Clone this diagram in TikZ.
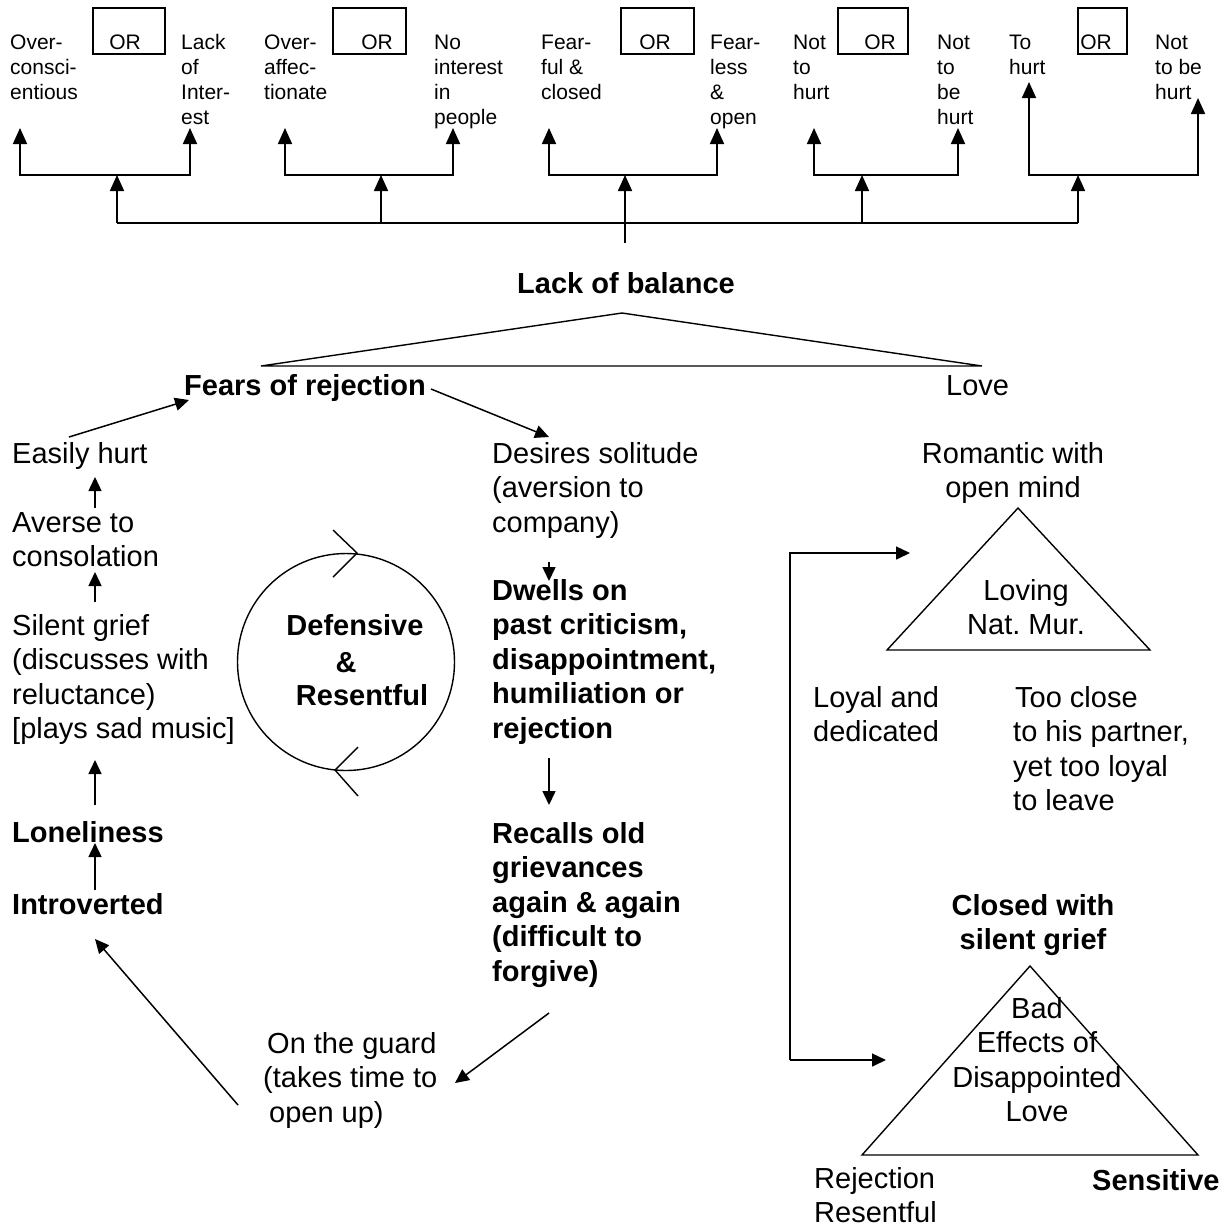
\documentclass[tikz,border=0pt]{standalone}
\usepackage{fontspec}
\setmainfont{Liberation Sans}
\usetikzlibrary{arrows.meta}
\newcommand\ml[2][l]{\begin{tabular}[t]{@{}#1@{}}#2\end{tabular}}
\begin{document}
\begin{tikzpicture}[x=1pt,y=-1pt,
  toptxt/.style={font=\fontsize{21}{25}\selectfont, inner sep=0, anchor=base west},
  txt/.style={font=\fontsize{29}{34.6}\selectfont, inner sep=0, anchor=base west},
  btxt/.style={font=\fontsize{29}{34.6}\selectfont\bfseries, inner sep=0, anchor=base west},
  orbox/.style={draw, line width=1.5pt, minimum height=46pt, inner sep=0},
  conn/.style={line width=1.7pt},
  arr/.style={line width=1.7pt, -{Triangle[length=16pt,width=14pt]}},
  sarr/.style={line width=1.5pt, -{Triangle[length=14pt,width=13pt]}},
  outl/.style={line width=1.4pt, line join=miter}]
\fill[white] (0,0) rectangle (1230,1227);
\useasboundingbox (0,0) rectangle (1230,1227);

% ---------- top row ----------
\node[orbox, minimum width=72pt] (b1) at (129,31) {};
\node[orbox, minimum width=73pt] (b2) at (369.5,31) {};
\node[orbox, minimum width=73pt] (b3) at (657.5,31) {};
\node[orbox, minimum width=70pt] (b4) at (873,31) {};
\node[orbox, minimum width=49pt] (b5) at (1102.5,31) {};
\node[toptxt, anchor=base] (o1) at (125,49.5) {OR};
\node[toptxt, anchor=base] (o2) at (377,49.5) {OR};
\node[toptxt, anchor=base] (o3) at (655,49.5) {OR};
\node[toptxt, anchor=base] (o4) at (880,49.5) {OR};
\node[toptxt, anchor=base] (o5) at (1096,49.5) {OR};

\node[toptxt] (t1) at (10,49.5) {\ml{Over-\\consci-\\entious}};
\node[toptxt] (t2) at (181,49.5) {\ml{Lack\\of\\Inter-\\est}};
\node[toptxt] (t3) at (264,49.5) {\ml{Over-\\affec-\\tionate}};
\node[toptxt] (t4) at (434,49.5) {\ml{No\\interest\\in\\people}};
\node[toptxt] (t5) at (541,49.5) {\ml{Fear-\\ful \&\\closed}};
\node[toptxt] (t6) at (710,49.5) {\ml{Fear-\\less\\\&\\open}};
\node[toptxt] (t7) at (793,49.5) {\ml{Not\\to\\hurt}};
\node[toptxt] (t8) at (937,49.5) {\ml{Not\\to\\be\\hurt}};
\node[toptxt] (t9) at (1009,49.5) {\ml{To\\hurt}};
\node[toptxt] (t10) at (1155,49.5) {\ml{Not\\to be\\hurt}};

% arrow tips of the top row
\coordinate (a1) at (20,128);   \coordinate (a2) at (190,128);
\coordinate (a3) at (285,128);  \coordinate (a4) at (453,128);
\coordinate (a5) at (549,128);  \coordinate (a6) at (717,128);
\coordinate (a7) at (814,128);  \coordinate (a8) at (958,128);
\coordinate (a9) at (1029,82);  \coordinate (a10) at (1198,98);
% junctions
\coordinate (m1) at (117,175); \coordinate (m2) at (381,175);
\coordinate (m3) at (625,175); \coordinate (m4) at (862,175);
\coordinate (m5) at (1078,175);
\coordinate (n1) at (117,223); \coordinate (n2) at (381,223);
\coordinate (n3) at (625,223); \coordinate (n4) at (862,223);
\coordinate (n5) at (1078,223);
\coordinate (lbtop) at (625,243);

\draw[arr] (m1) -| (a1); \draw[arr] (m1) -| (a2);
\draw[arr] (m2) -| (a3); \draw[arr] (m2) -| (a4);
\draw[arr] (m3) -| (a5); \draw[arr] (m3) -| (a6);
\draw[arr] (m4) -| (a7); \draw[arr] (m4) -| (a8);
\draw[arr] (m5) -| (a9); \draw[arr] (m5) -| (a10);
\draw[arr] (n1) -- (m1); \draw[arr] (n2) -- (m2);
\draw[arr] (n4) -- (m4); \draw[arr] (n5) -- (m5);
\draw[conn] (n1) -- (n5);
\draw[arr] (lbtop) -- (m3);

% ---------- lack of balance ----------
\node[btxt, anchor=base] (lob) at (626,293) {Lack of balance};
\coordinate (tl) at (261,366); \coordinate (ta) at (622,313); \coordinate (tr) at (982,366);
\draw[outl] (tl) -- (ta) -- (tr) -- cycle;
\node[btxt] (fear) at (184,395) {Fears of rejection};
\node[txt] (love) at (946,395) {Love};

% ---------- left column ----------
\node[txt] (easy) at (12,463) {Easily hurt};
\node[txt] (averse) at (12,532) {\ml{Averse to\\consolation}};
\node[txt] (silent) at (12,635) {\ml{Silent grief\\(discusses with\\reluctance)\\\relax[plays sad music]}};
\node[btxt] (lonely) at (12,842) {Loneliness};
\node[btxt] (intro) at (12,914) {Introverted};

% ---------- middle column ----------
\node[txt] (desire) at (492,463) {\ml{Desires solitude\\(aversion to\\company)}};
\node[btxt] (dwells) at (492,600) {\ml{Dwells on\\past criticism,\\disappointment,\\humiliation or\\rejection}};
\node[btxt] (recalls) at (492,843) {\ml{Recalls old\\grievances\\again \& again\\\relax(difficult to\\forgive)}};
\node[txt] (guard) at (263,1053) {\ml{\hspace{4pt}On the guard\\\relax(takes time to\\\hspace{6pt}open up)}};

% ---------- circle ----------
\node[draw, circle, line width=1.4pt, minimum size=217pt, inner sep=0] (circ) at (346,662) {};
\node[btxt, anchor=base] (def) at (355,635) {Defensive};
\node[btxt, anchor=base] (amp) at (346,672) {\&};
\node[btxt, anchor=base] (res) at (362,705) {Resentful};
\coordinate (ch1a) at (333,530); \coordinate (ch1b) at (357,553); \coordinate (ch1c) at (333,577);
\coordinate (ch2a) at (358,747); \coordinate (ch2b) at (335,770); \coordinate (ch2c) at (358,796);
\draw[outl] (ch1a) -- (ch1b) -- (ch1c);
\draw[outl] (ch2a) -- (ch2b) -- (ch2c);

% ---------- flow arrows ----------
\coordinate (e1) at (69,437);   \coordinate (e2) at (189,400);
\coordinate (f1) at (431,389);  \coordinate (f2) at (549,437);
\coordinate (g1) at (549,562);  \coordinate (g2) at (549,581);
\coordinate (h1) at (549,758);  \coordinate (h2) at (549,805);
\coordinate (i1) at (549,1013); \coordinate (i2) at (455,1083);
\coordinate (j1) at (238,1105); \coordinate (j2) at (95,939);
\coordinate (k1) at (95,890);   \coordinate (k2) at (95,843);
\coordinate (l1) at (95,805);   \coordinate (l2) at (95,760);
\coordinate (p1) at (95,602);   \coordinate (p2) at (95,572);
\coordinate (q1) at (95,508);   \coordinate (q2) at (95,477);
\draw[sarr] (e1) -- (e2);
\draw[sarr] (f1) -- (f2);
\draw[sarr] (g1) -- (g2);
\draw[sarr] (h1) -- (h2);
\draw[sarr] (i1) -- (i2);
\draw[sarr] (j1) -- (j2);
\draw[sarr] (k1) -- (k2);
\draw[sarr] (l1) -- (l2);
\draw[sarr] (p1) -- (p2);
\draw[sarr] (q1) -- (q2);

% ---------- right side ----------
\node[txt, anchor=base] (rom) at (1013,463) {\ml[c]{Romantic with\\open mind}};
\coordinate (u1) at (887,650); \coordinate (u2) at (1018,508); \coordinate (u3) at (1150,650);
\draw[outl] (u1) -- (u2) -- (u3) -- cycle;
\node[txt, anchor=base] (loving) at (1026,600) {\ml[c]{Loving\\Nat.\ Mur.}};
\node[txt] (loyal) at (813,707) {\ml{Loyal and\\dedicated}};
\node[txt] (close) at (1013,707) {\ml{\hspace{2pt}Too close\\to his partner,\\yet too loyal\\to leave}};
\node[btxt, anchor=base] (closed) at (1033,915) {\ml[c]{Closed with\\silent grief}};
\coordinate (w1) at (862,1155); \coordinate (w2) at (1030,966); \coordinate (w3) at (1198,1155);
\draw[outl] (w1) -- (w2) -- (w3) -- cycle;
\node[txt, anchor=base] (bad) at (1037,1018) {\ml[c]{Bad\\Effects of\\Disappointed\\Love}};
\node[txt] (rej) at (814,1188) {\ml{Rejection\\Resentful}};
\node[btxt] (sens) at (1092,1190) {Sensitive};

\coordinate (kc) at (790,1060); \coordinate (kt) at (910,553); \coordinate (kb) at (886,1060);
\draw[sarr] (kc) |- (kt);
\draw[sarr] (kc) -- (kb);
\end{tikzpicture}
\end{document}
